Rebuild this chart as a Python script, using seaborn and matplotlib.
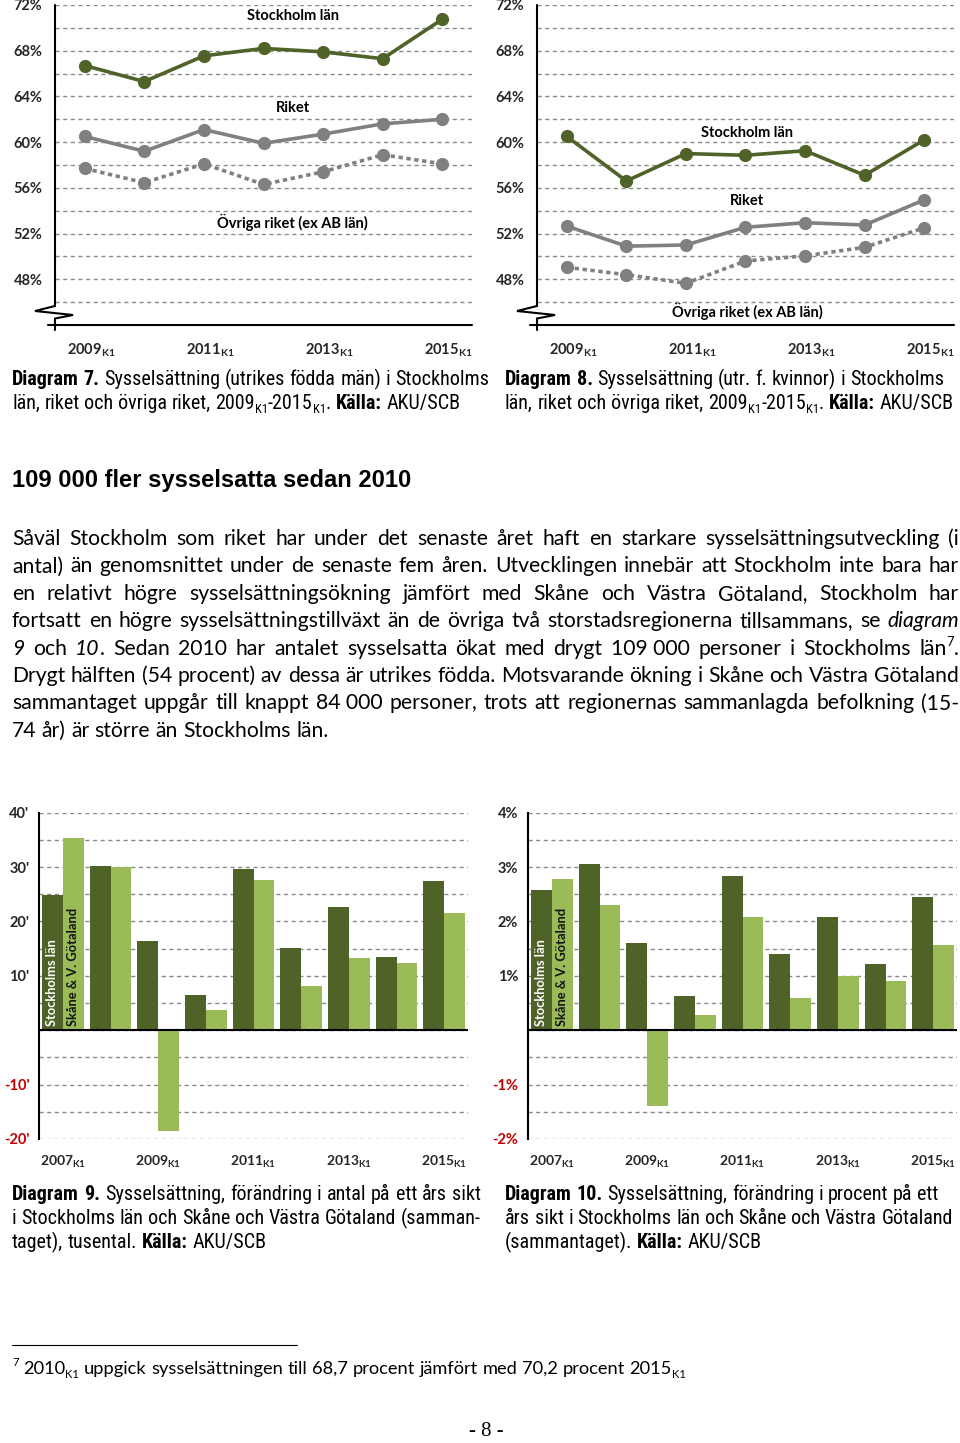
import re
import numpy as np
import pandas as pd
import matplotlib
matplotlib.use('Agg')
import matplotlib.pyplot as plt
import seaborn as sns
from matplotlib import font_manager
from matplotlib.lines import Line2D
from matplotlib.transforms import ScaledTranslation

# ---- data ----
quarters = ['2009K1', '2010K1', '2011K1', '2012K1', '2013K1', '2014K1', '2015K1']
series = ['Stockholm län', 'Riket', 'Övriga riket (ex AB län)']

# Diagram 7: utrikes födda män (%)
men_sthlm = [66.7, 65.3, 67.55, 68.2, 67.9, 67.3, 70.75]
men_riket = [60.5, 59.2, 61.1, 59.9, 60.7, 61.6, 62.0]
men_ovriga = [57.7, 56.45, 58.1, 56.3, 57.4, 58.9, 58.1]

# Diagram 8: utrikes födda kvinnor (%)
women_sthlm = [60.5, 56.6, 59.0, 58.85, 59.25, 57.1, 60.2]
women_riket = [52.65, 50.9, 51.0, 52.55, 52.95, 52.75, 54.95]
women_ovriga = [49.05, 48.4, 47.65, 49.6, 50.05, 50.8, 52.5]

years = ['2007K1', '2008K1', '2009K1', '2010K1', '2011K1', '2012K1', '2013K1', '2014K1', '2015K1']
regions = ['Stockholms län', 'Skåne & V. Götaland']

# Diagram 9: förändring i antal (tusental)
abs_sthlm = [24.8, 30.2, 16.4, 6.5, 29.6, 15.1, 22.6, 13.5, 27.4]
abs_skvg = [35.4, 30.0, -18.6, 3.7, 27.6, 8.2, 13.2, 12.4, 21.6]

# Diagram 10: förändring i procent
pct_sthlm = [2.58, 3.06, 1.61, 0.63, 2.84, 1.40, 2.09, 1.21, 2.45]
pct_skvg = [2.79, 2.31, -1.39, 0.28, 2.09, 0.60, 0.99, 0.91, 1.56]

# ---- text ----
heading = '109 000 fler sysselsatta sedan 2010'
body = [
    'Såväl Stockholm som riket har under det senaste året haft en starkare sysselsättningsutveckling (i',
    'antal) än genomsnittet under de senaste fem åren. Utvecklingen innebär att Stockholm inte bara har',
    'en relativt högre sysselsättningsökning jämfört med Skåne och Västra Götaland, Stockholm har',
    'fortsatt en högre sysselsättningstillväxt än de övriga två storstadsregionerna tillsammans, se *diagram*',
    '*9* och *10*. Sedan 2010 har antalet sysselsatta ökat med drygt 109\u00a0000 personer i Stockholms län^{7}.',
    'Drygt hälften (54 procent) av dessa är utrikes födda. Motsvarande ökning i Skåne och Västra Götaland',
    'sammantaget uppgår till knappt 84\u00a0000 personer, trots att regionernas sammanlagda befolkning (15-',
    '74 år) är större än Stockholms län.',
]
cap7 = ['**Diagram** **7.** Sysselsättning (utrikes födda män) i Stockholms',
        'län, riket och övriga riket, 2009_{K1}-2015_{K1}. **Källa:** AKU/SCB']
cap8 = ['**Diagram** **8.** Sysselsättning (utr. f. kvinnor) i Stockholms',
        'län, riket och övriga riket, 2009_{K1}-2015_{K1}. **Källa:** AKU/SCB']
cap9 = ['**Diagram** **9.** Sysselsättning, förändring i antal på ett års sikt',
        'i Stockholms län och Skåne och Västra Götaland (samman-',
        'taget), tusental. **Källa:** AKU/SCB']
cap10 = ['**Diagram** **10.** Sysselsättning, förändring i procent på ett',
         'års sikt i Stockholms län och Skåne och Västra Götaland',
         '(sammantaget). **Källa:** AKU/SCB']
footnote = '^{7} 2010_{K1} uppgick sysselsättningen till 68,7 procent jämfört med 70,2 procent 2015_{K1}'

GREEN = '#4F6228'
GREY = '#808080'
DARK = '#4F6228'
LIGHT = '#9BBB59'
RED = '#C00000'
GRID = '#8a8a8a'

sns.set_theme(style='white')
plt.rcParams['font.family'] = ['Lato', 'DejaVu Sans']
# mathtext is only used for the bold tick labels with subscript
plt.rcParams['mathtext.fontset'] = 'custom'
plt.rcParams['mathtext.rm'] = 'Lato:bold'
plt.rcParams['mathtext.it'] = 'Lato:bold'
plt.rcParams['mathtext.bf'] = 'Lato:bold'
plt.rcParams['axes.unicode_minus'] = False

names = {f.name for f in font_manager.fontManager.ttflist}
CAPFONT = 'Roboto Condensed' if 'Roboto Condensed' in names else 'Lato'

W, H, DPI = 960, 1443, 100
fig = plt.figure(figsize=(W / DPI, H / DPI), dpi=DPI)
fig.patch.set_facecolor('white')
renderer = fig.canvas.get_renderer()


def add_ax(left, top, right, bottom):
    return fig.add_axes([left / W, 1 - bottom / H, (right - left) / W, (bottom - top) / H])


def tick_label(q):
    return r'$\mathrm{%s}_{\mathrm{%s}}$' % (q[:4], q[4:])


# ---- line charts ----
def line_chart(ax, sthlm, riket, ovriga, label_xy, wpx, hpx):
    df = pd.DataFrame({
        'x': list(range(len(quarters))) * 3,
        'value': sthlm + riket + ovriga,
        'serie': [s for s in series for _ in quarters],
    })
    sns.lineplot(data=df, x='x', y='value', hue='serie', style='serie',
                 palette=dict(zip(series, [GREEN, GREY, GREY])),
                 dashes=dict(zip(series, ['', '', (1.2, 1.0)])),
                 markers=dict(zip(series, ['o', 'o', 'o'])),
                 linewidth=2.6, markersize=9.5, markeredgewidth=0,
                 errorbar=None, legend=False, ax=ax)
    for name, (x, y) in zip(series, label_xy):
        ax.text(x, y, name, ha='center', va='center', fontsize=10.5, fontweight='bold', color='black')
    ax.set_xlim(-0.5, len(quarters) - 0.5)
    ax.set_ylim(44, 72)
    yt = list(range(46, 73, 2))
    ax.set_yticks(yt, [f'{v}%' if v % 4 == 0 else '' for v in yt],
                  fontweight='bold', fontsize=10.5)
    xt = [0, 2, 4, 6]
    ax.set_xticks(xt, [tick_label(quarters[i]) for i in xt], fontsize=10.5)
    ax.set_xlabel('')
    ax.set_ylabel('')
    ax.grid(axis='y', color=GRID, lw=1, linestyle=(0, (3, 2.5)))
    ax.grid(axis='x', visible=False)
    for s in ax.spines.values():
        s.set_visible(False)
    ax.tick_params(axis='y', length=0, pad=9)
    ax.tick_params(axis='x', length=0, pad=12)
    for lbl in ax.get_xticklabels():
        lbl.set_transform(lbl.get_transform() + ScaledTranslation(0.06, 0, fig.dpi_scale_trans))
    kw = dict(transform=ax.transAxes, clip_on=False, color='black', lw=1.5, solid_joinstyle='miter')
    xs = [0, 0, -20, 18, 0, 0]
    ys = [hpx, 19, 14, 10, 6.5, -5]
    ax.plot([x / wpx for x in xs], [y / hpx for y in ys], **kw)
    ax.plot([-7 / wpx, 1], [0, 0], **kw)


ax7 = add_ax(55, 5, 472, 325)
line_chart(ax7, men_sthlm, men_riket, men_ovriga,
           [(3.49, 71.0), (3.49, 63.0), (3.49, 53.0)], 417, 320)
ax8 = add_ax(537, 5, 954, 325)
line_chart(ax8, women_sthlm, women_riket, women_ovriga,
           [(3.03, 60.8), (3.03, 54.85), (3.03, 45.15)], 417, 320)


# ---- bar charts ----
def bar_chart(ax, sthlm, skvg, lo, hi, step, unit):
    df = pd.DataFrame({
        'period': years * 2,
        'value': sthlm + skvg,
        'region': [r for r in regions for _ in years],
    })
    sns.barplot(data=df, x='period', y='value', hue='region', palette=[DARK, LIGHT],
                width=0.88, saturation=1, errorbar=None, legend=False, linewidth=0, ax=ax)
    ax.set_xlim(-0.5, len(years) - 0.5)
    ax.set_ylim(lo, hi)
    ticks = np.arange(lo, hi + step / 4, step / 2)
    labels = []
    for t in ticks:
        major = abs(t / step - round(t / step)) < 1e-9
        labels.append(f'{t:g}{unit}' if major and t != 0 else '')
    ax.set_yticks(ticks, labels, fontweight='bold', fontsize=10.5)
    for t, lbl in zip(ticks, ax.get_yticklabels()):
        if t < 0:
            lbl.set_color(RED)
    ax.set_xticks(range(len(years)),
                  [tick_label(q) if i % 2 == 0 else '' for i, q in enumerate(years)], fontsize=10)
    ax.set_xlabel('')
    ax.set_ylabel('')
    ax.set_axisbelow(True)
    ax.grid(axis='y', color=GRID, lw=1, linestyle=(0, (3, 2.5)))
    ax.grid(axis='x', visible=False)
    ax.axhline(0, color='black', lw=1.5, zorder=3)
    for k, s in ax.spines.items():
        s.set_visible(k == 'left')
    ax.spines['left'].set_color('black')
    ax.spines['left'].set_linewidth(1.5)
    ax.tick_params(axis='y', length=0, pad=7)
    ax.tick_params(axis='x', length=0, pad=11)
    p0 = ax.patches[0]
    p1 = ax.patches[len(years)]
    for p, text, col in [(p0, regions[0], 'white'), (p1, regions[1], '#111111')]:
        ax.annotate(text, xy=(p.get_x() + p.get_width() / 2, 0), xytext=(0, 3),
                    textcoords='offset points', rotation=90, ha='center', va='bottom',
                    color=col, fontsize=9.3, fontweight='bold')


ax9 = add_ax(39, 812.7, 468, 1139)
bar_chart(ax9, abs_sthlm, abs_skvg, -20, 40, 10, "'")
ax10 = add_ax(528, 812.7, 957, 1139)
bar_chart(ax10, pct_sthlm, pct_skvg, -2, 4, 1, '%')

# ---- running text ----
TOK = re.compile(r'\*\*(.+?)\*\*|\*(.+?)\*|\^\{(.+?)\}|_\{(.+?)\}|([^*^_]+)')


def parse(word):
    runs = []
    for b, it, sp, sb, n in TOK.findall(word):
        if b:
            runs.append((b, 'bold', 'normal', 0))
        elif it:
            runs.append((it, 'normal', 'italic', 0))
        elif sp:
            runs.append((sp, 'normal', 'normal', 1))
        elif sb:
            runs.append((sb, 'normal', 'normal', -1))
        else:
            runs.append((n, 'normal', 'normal', 0))
    return runs


def measure(text, size, weight='normal', style='normal', family='Lato'):
    t = fig.text(0, 0, text, fontsize=size, fontweight=weight, fontstyle=style, family=family)
    w = t.get_window_extent(renderer).width
    t.remove()
    return w


def run_size(size, pos):
    return size * 0.62 if pos else size


def word_width(runs, size, family):
    return sum(measure(t, run_size(size, p), w, s, family) for t, w, s, p in runs)


def space_width(size, family):
    return measure('n n', size, family=family) - measure('nn', size, family=family)


def line_width(line, size, family):
    words = [parse(w) for w in line.split(' ')]
    return sum(word_width(r, size, family) for r in words) + space_width(size, family) * (len(words) - 1)


def draw_line(line, x0, y, size, family, x1=None, color='black'):
    words = [parse(w) for w in line.split(' ')]
    widths = [word_width(r, size, family) for r in words]
    gap = space_width(size, family)
    if x1 is not None and len(words) > 1:
        gap = (x1 - x0 - sum(widths)) / (len(words) - 1)
    x = x0
    for runs in words:
        for t, w, s, p in runs:
            fs = run_size(size, p)
            dy = {0: 0, 1: 0.42 * size, -1: -0.2 * size}[p] * DPI / 72
            txt = fig.text(x / W, 1 - (y - dy) / H, t, fontsize=fs, fontweight=w, fontstyle=s,
                           family=family, color=color, ha='left', va='baseline')
            x += txt.get_window_extent(renderer).width
        x += gap


# heading (Arial-like)
hw = measure(heading, 20, 'bold', family='Liberation Sans')
fig.text(12 / W, 1 - 486.5 / H, heading, fontsize=20 * 398 / hw, fontweight='bold',
         family='Liberation Sans', ha='left', va='baseline', color='black')

# body text, justified
base = 14
widest = max(line_width(l, base, 'Lato') for l in body[:-1])
body_size = base * 946 / widest
for i, line in enumerate(body):
    draw_line(line, 12, 545 + 27.4 * i, body_size, 'Lato',
              x1=959 if i < len(body) - 1 else None)

# captions
targets = [(cap7[0], 476), (cap8[0], 439), (cap9[0], 469), (cap9[1], 469), (cap10[0], 440)]
cap_size = min(12 * t / line_width(l, 12, CAPFONT) for l, t in targets)
for i, line in enumerate(cap7):
    draw_line(line, 12, 385 + 24 * i, cap_size, CAPFONT)
for i, line in enumerate(cap8):
    draw_line(line, 505, 385 + 24 * i, cap_size, CAPFONT)
for i, line in enumerate(cap9):
    draw_line(line, 12, 1200 + 24 * i, cap_size, CAPFONT, x1=481 if i < 2 else None)
for i, line in enumerate(cap10):
    draw_line(line, 505, 1200 + 24 * i, cap_size, CAPFONT)

# footnote
fig.add_artist(Line2D([12 / W, 297 / W], [1 - 1345 / H] * 2, color='black', lw=0.8))
fn_size = 12 * 670 / line_width(footnote, 12, 'Lato')
draw_line(footnote, 12, 1374, fn_size, 'Lato')

# page number
fig.text(486 / W, 1 - 1432 / H, '- 8 -', fontsize=15, family='Liberation Serif',
         ha='center', va='center', color='black')

fig.savefig('out.png', dpi=DPI, facecolor='white')
